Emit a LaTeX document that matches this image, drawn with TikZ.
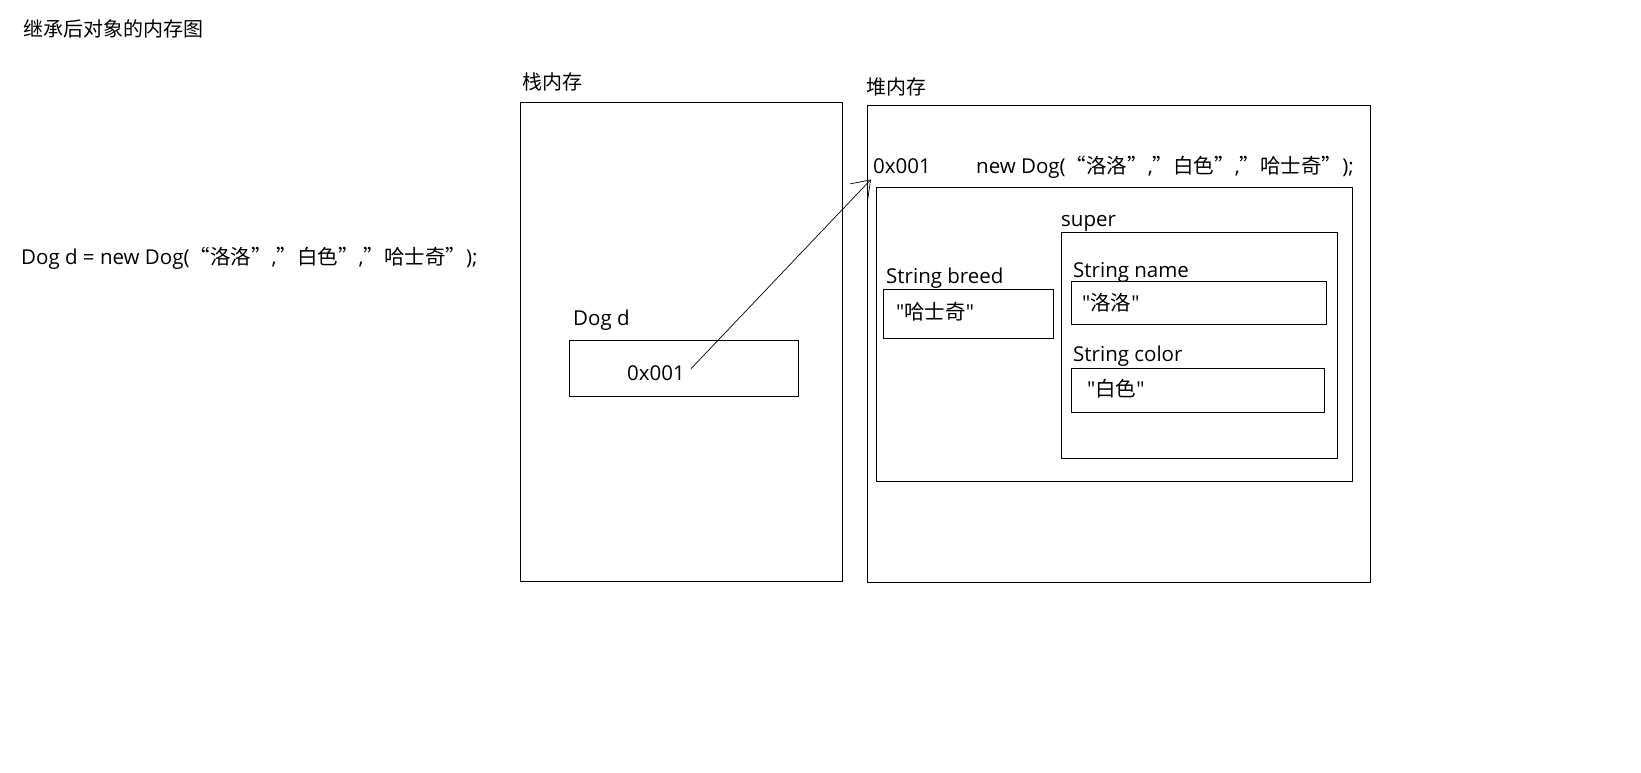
\documentclass[tikz,border=0pt]{standalone}
\usepackage{fontspec}
\newfontfamily\cjk{Noto Sans CJK SC}
\newfontfamily\lat{Open Sans}
\usepackage{tikz}
\usetikzlibrary{arrows.meta}

\begin{document}
\begin{tikzpicture}[x=1pt, y=-1pt,
  box/.style={draw, line width=1.2pt, inner sep=0pt, anchor=north west},
  txt/.style={inner sep=0pt, anchor=base west, font=\fontsize{20.5}{24}\lat},
  zh/.style={inner sep=0pt, anchor=base west, font=\fontsize{20}{24}\cjk}]
\useasboundingbox (0,0) rectangle (1641,772);
% titles
\node[zh](t1) at (23,36){继承后对象的内存图};
\node[txt](t2) at (21,264){Dog d = new Dog({\cjk “洛洛”},{\cjk ”白色”},{\cjk ”哈士奇”});};
\node[zh](t3) at (522,89){栈内存};
\node[zh](t4) at (866,94){堆内存};
% stack
\node[box, minimum width=322, minimum height=479](st) at (520,102){};
\node[txt](d1) at (573,325){Dog d};
\node[box, minimum width=229, minimum height=56](d2) at (569,340){};
\node[txt](v1) at (627,380){0x001};
% heap
\node[box, minimum width=503, minimum height=477](hp) at (867,105){};
\node[txt](h1) at (873,173){0x001};
\node[txt](h2) at (976,173){new Dog({\cjk “洛洛”},{\cjk ”白色”},{\cjk ”哈士奇”});};
\node[box, minimum width=476, minimum height=294](ob) at (876,187){};
\node[txt](b1) at (886,283){String breed};
\node[box, minimum width=170, minimum height=49](b2) at (883,289){};
\node[txt](b3) at (896,319){"{\cjk 哈士奇}"};
\node[txt](s1) at (1061,226){super};
\node[box, minimum width=276, minimum height=226](s2) at (1061,232){};
\node[txt](n1) at (1073,277){String name};
\node[box, minimum width=255, minimum height=43](n2) at (1071,281){};
\node[txt](n3) at (1082,310){"{\cjk 洛洛}"};
\node[txt](c1) at (1073,361){String color};
\node[box, minimum width=253, minimum height=44](c2) at (1071,368){};
\node[txt](c3) at (1087,396){"{\cjk 白色}"};
\draw[-{Straight Barb[length=17pt,width=24pt]}, line width=0.7pt] ([shift={(6,-4)}]v1.east) -- ([shift={(-2,6)}]h1.south west);
\end{tikzpicture}
\end{document}
